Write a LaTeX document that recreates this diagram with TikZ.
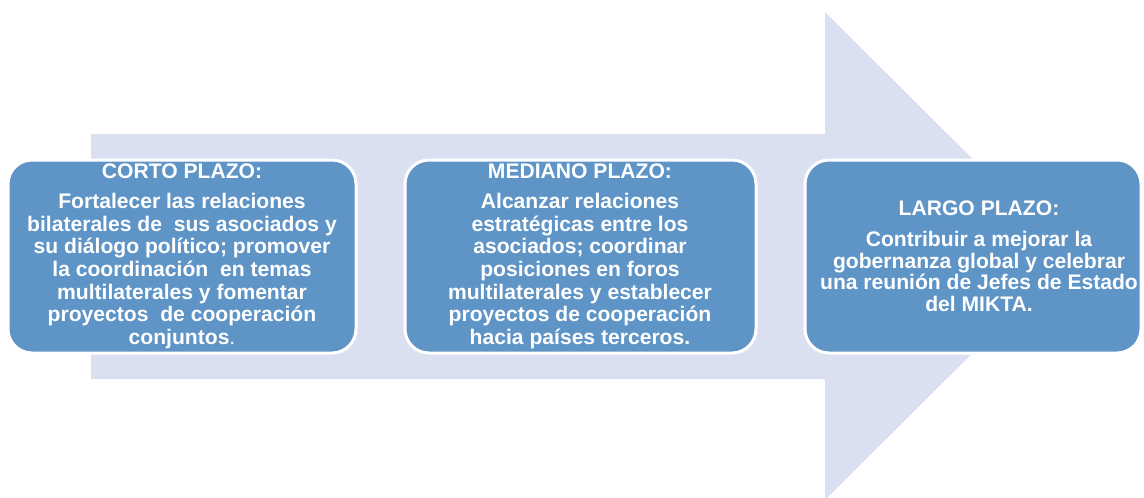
\documentclass[tikz,border=0pt]{standalone}
\usepackage{fontspec}
\setmainfont{Liberation Sans}
\definecolor{arrowfill}{RGB}{218,224,239}
\definecolor{boxfill}{RGB}{95,148,199}
\tikzset{
  stagebox/.style={draw=white, line width=3pt, fill=boxfill, rounded corners=24pt},
  stagetext/.style={align=center, text=white, inner sep=0pt,
    font=\bfseries\fontsize{21.1}{22.6}\selectfont},
}
\begin{document}
\begin{tikzpicture}[x=1pt,y=-1pt]
\useasboundingbox (0,0) rectangle (1144,498);
% big background arrow
\fill[arrowfill] (91,134) -- (825,134) -- (825,12) -- (1070,256) -- (827,498) -- (825,498) -- (825,379) -- (91,379) -- cycle;
% boxes
\path[stagebox] (8,160) rectangle (356,353);
\node[stagetext] (t1) at (182,256)
 {CORTO PLAZO:\\[8pt]
  Fortalecer las relaciones\\
  bilaterales de~ sus asociados y\\
  su diálogo político; promover\\
  la coordinación~ en temas\\
  multilaterales y fomentar\\
  proyectos~ de cooperación\\
  conjuntos{\mdseries .}};
\path[stagebox] (405,160) rectangle (756,353);
\node[stagetext] (t2) at (580,256)
 {MEDIANO PLAZO:\\[8pt]
  Alcanzar relaciones\\
  estratégicas entre los\\
  asociados; coordinar\\
  posiciones en foros\\
  multilaterales y establecer\\
  proyectos de cooperación\\
  hacia países terceros.};
\path[stagebox] (805,160) rectangle (1141,353);
\node[stagetext, font=\bfseries\fontsize{21.1}{21.4}\selectfont] (t3) at (979,256)
 {LARGO PLAZO:\\[10pt]
  Contribuir a mejorar la\\
  gobernanza global y celebrar\\
  una reunión de Jefes de Estado\\
  del MIKTA.};
\end{tikzpicture}
\end{document}
